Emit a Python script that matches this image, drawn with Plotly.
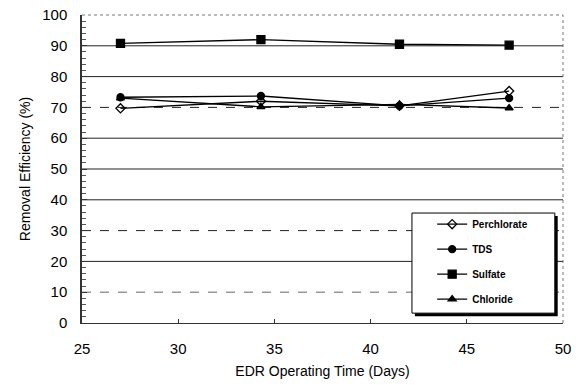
import plotly.graph_objects as go

days = [27.0, 34.3, 41.5, 47.2]
perchlorate = [69.7, 72.0, 70.5, 75.3]
tds = [73.3, 73.7, 70.5, 73.0]
sulfate = [90.8, 92.0, 90.5, 90.2]
chloride = [73.0, 70.2, 71.0, 69.8]

series_names = ["Perchlorate", "TDS", "Sulfate", "Chloride"]
series_values = [perchlorate, tds, sulfate, chloride]
symbols = ["diamond-open", "circle", "square", "triangle-up"]
marker_sizes = [7, 7, 8, 7]

y_ticks = [0, 10, 20, 30, 40, 50, 60, 70, 80, 90, 100]
x_ticks = [25, 30, 35, 40, 45, 50]
grid_solid = [20, 40, 50, 60, 80, 90]
grid_dashed = [30, 70]
grid_gray = [10]

fig = go.Figure()
for i, (name, vals, sym, ms) in enumerate(zip(series_names, series_values, symbols, marker_sizes)):
    fig.add_trace(go.Scatter(
        x=days, y=vals, name=name, mode="lines+markers",
        legendgroup=name,
        line=dict(color="black", width=1.3),
        marker=dict(symbol=sym, size=ms, color="black",
                    line=dict(color="black", width=1.3)),
    ))

shapes = []
for g in grid_solid:
    shapes.append(dict(type="line", xref="paper", yref="y", x0=0, x1=1, y0=g, y1=g,
                       line=dict(color="#222", width=1), layer="below"))
for g in grid_dashed:
    shapes.append(dict(type="line", xref="paper", yref="y", x0=0, x1=1, y0=g, y1=g,
                       line=dict(color="#222", width=1, dash="dash"), layer="below"))
for g in grid_gray:
    shapes.append(dict(type="line", xref="paper", yref="y", x0=0, x1=1, y0=g, y1=g,
                       line=dict(color="#999", width=1.5, dash="dash"), layer="below"))
# dotted top/right border
shapes.append(dict(type="line", xref="paper", yref="paper", x0=0, x1=1, y0=1, y1=1,
                   line=dict(color="#777", width=1, dash="dot")))
shapes.append(dict(type="line", xref="paper", yref="paper", x0=1, x1=1, y0=0, y1=1,
                   line=dict(color="#777", width=1, dash="dot")))
# legend box with shadow
shapes.append(dict(type="rect", xref="paper", yref="paper", x0=0.692, x1=0.989, y0=0.022, y1=0.347,
                   line=dict(width=0), fillcolor="black"))
shapes.append(dict(type="rect", xref="paper", yref="paper", x0=0.686, x1=0.983, y0=0.032, y1=0.357,
                   line=dict(color="black", width=1), fillcolor="white"))

fig.update_layout(
    width=585, height=388,
    margin=dict(l=82, r=22, t=15, b=65),
    paper_bgcolor="white", plot_bgcolor="white",
    font=dict(family="Liberation Sans, Arial, sans-serif", color="#000", size=15),
    shapes=shapes,
    showlegend=True,
    legend=dict(x=0.728, y=0.368, xanchor="left", yanchor="top",
                bgcolor="rgba(0,0,0,0)", borderwidth=0,
                font=dict(size=10, color="#000", weight="bold"),
                traceorder="grouped", tracegroupgap=6),
    xaxis=dict(range=[25, 50], tickvals=x_ticks, showgrid=False, zeroline=False,
               automargin=False,
               showline=True, linecolor="#333", linewidth=1,
               ticks="inside", ticklen=4, tickcolor="#333",
               ticklabelstandoff=12,
               title=dict(text="EDR Operating Time (Days)", standoff=10,
                          font=dict(size=14))),
    yaxis=dict(range=[0, 100], tickvals=y_ticks, showgrid=False, zeroline=False,
               automargin=False,
               showline=True, linecolor="#333", linewidth=1.5,
               ticks="inside", ticklen=5, tickcolor="#333",
               minor=dict(dtick=2, ticks="inside", ticklen=4, tickcolor="#555"),
               ticklabelstandoff=10,
               title=dict(text="Removal Efficiency (%)", standoff=8,
                          font=dict(size=14))),
)

fig.write_html("out.html",
               config={"displayModeBar": False},
               post_script="document.body.style.margin='0';document.body.style.padding='0';")
